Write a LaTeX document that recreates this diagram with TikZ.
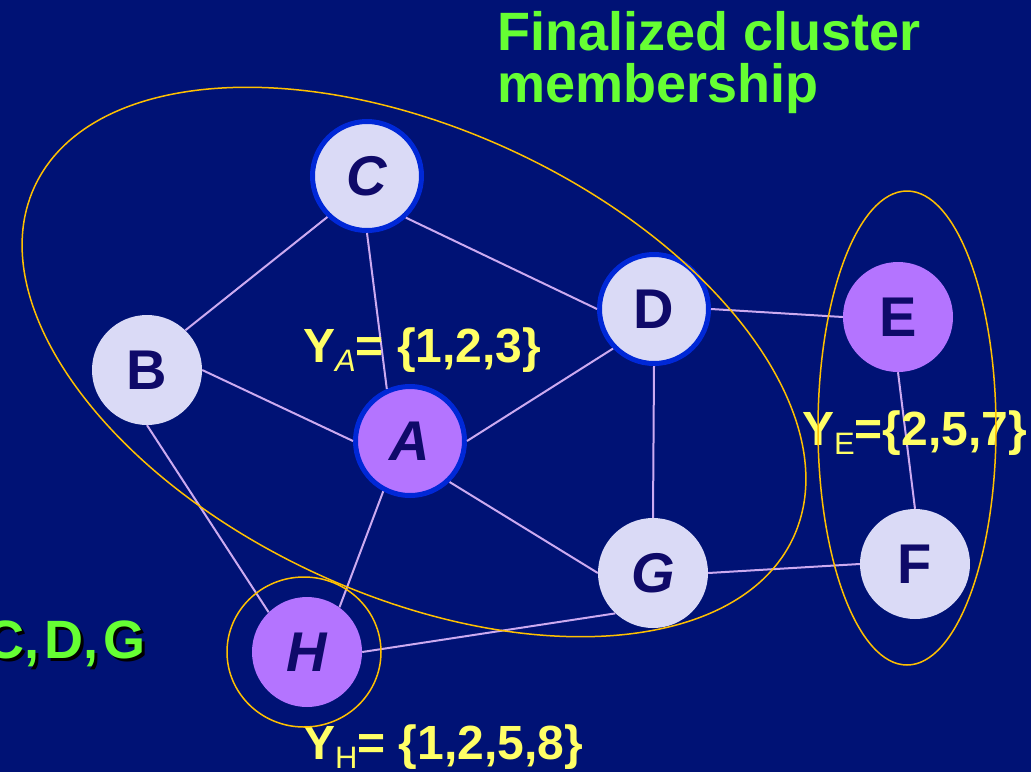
\documentclass[tikz,border=0pt]{standalone}
\usepackage{fontspec}
\setmainfont{Liberation Sans}
\usepackage{tikz}
\usetikzlibrary{calc}
\definecolor{slidebg}{RGB}{0,18,117}
\definecolor{palefill}{RGB}{218,218,246}
\definecolor{violetfill}{RGB}{180,116,255}
\definecolor{ringblue}{RGB}{0,40,215}
\definecolor{lettercol}{RGB}{15,10,105}
\definecolor{linkcol}{RGB}{204,170,240}
\definecolor{hullcol}{RGB}{255,192,0}
\definecolor{setyellow}{RGB}{255,255,102}
\definecolor{titlegreen}{RGB}{102,255,51}
\newcommand\Ysub[1]{Y\raisebox{-9pt}{\fontsize{31}{31}\selectfont\mdseries#1}}
\newcommand\cdgtext{C,\kern5pt D,\kern5pt G}
\tikzset{
  vtx/.style     = {circle, inner sep=0pt, minimum size=110pt, text=lettercol,
                    font=\fontsize{56}{56}\selectfont\bfseries},
  paleV/.style   = {vtx, fill=palefill},
  violetV/.style = {vtx, fill=violetfill},
  ring/.style    = {draw=ringblue, line width=5pt, minimum size=109pt},
  ital/.style    = {font=\fontsize{56}{56}\selectfont\bfseries\itshape},
  link/.style    = {draw=linkcol, line width=2pt},
  hull/.style    = {draw=hullcol, line width=1.5pt},
  setlbl/.style  = {text=setyellow, inner sep=0pt, anchor=base west,
                    font=\fontsize{48}{48}\selectfont\bfseries},
  greentxt/.style= {text=titlegreen, inner sep=0pt,
                    font=\fontsize{54}{52}\selectfont\bfseries},
}

\begin{document}
\begin{tikzpicture}[x=1pt, y=-1pt]
  \useasboundingbox (0,0) rectangle (1031,772);
  \fill[slidebg] (0,0) rectangle (1031,772);

  \node[paleV, ring, ital] (C) at (367,176) {C};
  \node[paleV]             (B) at (147,370) {B};
  \node[violetV, ring, ital] (A) at (410,441) {A};
  \node[paleV, ring]       (D) at (654,309) {D};
  \node[violetV]           (E) at (898,317) {E};
  \node[paleV]             (F) at (915,564) {F};
  \node[paleV, ital]       (G) at (653,573) {G};
  \node[violetV, ital]     (H) at (307,652) {H};

  \draw[link] (C.226) -- (B.46);
  \draw[link] (C.south) -- (A.114);
  \draw[link] (C.313) -- (D.west);
  \draw[link] (B.east) -- (A.west);
  \draw[link] (B.south) -- (H.134);
  \draw[link] (A.east) -- (D.224);
  \draw[link] (A.314) -- (G.west);
  \draw[link] (A.242) -- (H.54);
  \draw[link] (D.east) -- (E.west);
  \draw[link] (D.south) -- (G.north);
  \draw[link] (E.south) -- (F.north);
  \draw[link] (G.east) -- (F.west);
  \draw[link] (G.227) -- (H.east);

  \node[setlbl] (ya) at (303,362) {\Ysub{\itshape A}= \{1,2,3\}};
  \node[setlbl] (ye) at (802,445) {\Ysub{E}=\{2,5,7\}};
  \node[setlbl] (yh) at (303,759) {\Ysub{H}= \{1,2,5,8\}};

  \node[greentxt, align=left, anchor=north west] (title) at (497,11)
    {Finalized cluster\\membership};
  \node[greentxt, text=black, anchor=base east] (cdgshadow) at (149,661) {\cdgtext};
  \node[greentxt, anchor=base east] (cdg) at (146,658) {\cdgtext};

  \coordinate (bigc) at (414,362);
  \coordinate (efc) at (907,428);
  \coordinate (hc) at (304,652);
  \draw[hull, rotate around={-24.8:(bigc)}] (bigc) ellipse [x radius=418pt, y radius=233pt];
  \draw[hull] (efc) ellipse [x radius=89pt, y radius=237pt];
  \draw[hull] (hc) ellipse [x radius=77pt, y radius=75pt];
\end{tikzpicture}
\end{document}
